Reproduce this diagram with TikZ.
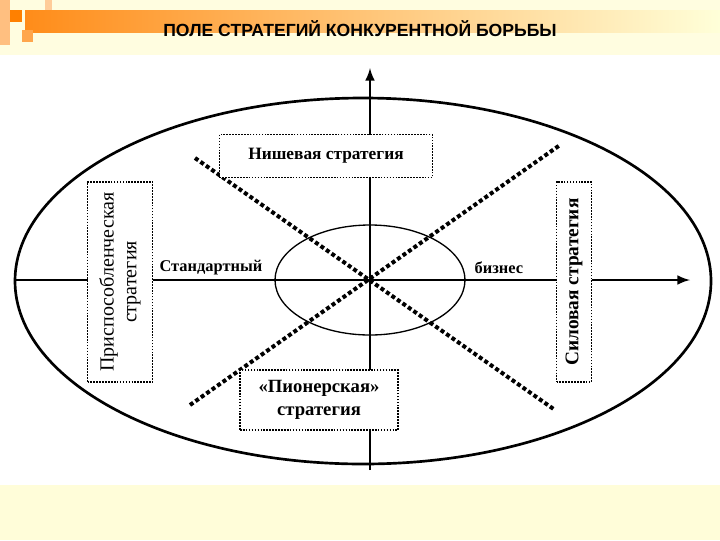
\documentclass[tikz,border=0pt]{standalone}
\usepackage{fontspec}
\setmainfont{Liberation Serif}
\newfontfamily\titlefont{Liberation Sans}
\begin{document}
\begin{tikzpicture}[x=0.75pt,y=-0.75pt,
  sbox/.style={draw,densely dotted,line width=1.2pt,fill=white,inner sep=0pt},
  lbl/.style={font=\bfseries\fontsize{11}{13}\selectfont,align=center},
  diag/.style={dotted,line width=3pt},
  ax/.style={line width=2.2pt,-latex}]
\useasboundingbox (0,0) rectangle (720,540);
\fill[yellow!12] (0,0) rectangle (720,55);
\fill[yellow!15] (0,485) rectangle (720,540);
\shade[left color=orange!90,right color=yellow!15] (25,10) rectangle (720,32);
\fill[orange!50] (0,0) rectangle (10,45);
\fill[orange] (10,10) rectangle (22,22);
\fill[orange!70] (22,30) rectangle (33,42);
\fill[orange!40] (45,0) rectangle (52,10);
\node[font=\titlefont\bfseries\fontsize{13.2}{15}\selectfont] (title) at (360,29) {ПОЛЕ СТРАТЕГИЙ КОНКУРЕНТНОЙ БОРЬБЫ};
\draw[line width=2pt] (363,281) ellipse [x radius=348,y radius=183];
\coordinate (c) at (370,280);
\draw[line width=1pt] (c) ellipse [x radius=95,y radius=55];
\coordinate (dl1) at (195,158); \coordinate (dl2) at (555,410);
\coordinate (dr1) at (190,405); \coordinate (dr2) at (560,145);
\draw[diag] (dl1) -- (dl2);
\draw[diag] (dr1) -- (dr2);
\coordinate (hl) at (15,280); \coordinate (hr) at (690,280);
\coordinate (vb) at (370,470); \coordinate (vt) at (370,68);
\draw[ax] (hl) -- (hr);
\draw[ax] (vb) -- (vt);
\node[sbox,minimum width=213*0.75pt,minimum height=43*0.75pt,lbl,font=\bfseries\fontsize{13}{15}\selectfont] (n) at (326,156) {Нишевая стратегия};
\node[sbox,minimum width=158*0.75pt,minimum height=60*0.75pt,lbl,font=\bfseries\fontsize{14}{17}\selectfont] (p) at (319,400) {«Пионерская»\\стратегия};
\node[sbox,minimum width=65*0.75pt,minimum height=200*0.75pt] (a) at (120,282) {};
\node[lbl,rotate=90,font=\fontsize{15}{17}\selectfont] (at) at (a) {Приспособленческая\\стратегия};
\node[sbox,minimum width=35*0.75pt,minimum height=200*0.75pt] (s) at (574,282) {};
\node[lbl,rotate=90,font=\bfseries\fontsize{14.5}{17}\selectfont] (st) at (s) {Силовая стратегия};
\node[lbl,anchor=west,fill=white,inner sep=1pt,font=\bfseries\fontsize{12.3}{14}\selectfont] (std) at (158,268) {Стандартный};
\node[lbl,anchor=west,fill=white,inner sep=1pt,font=\bfseries\fontsize{12.3}{14}\selectfont] (biz) at (473,268) {бизнес};
\end{tikzpicture}
\end{document}
